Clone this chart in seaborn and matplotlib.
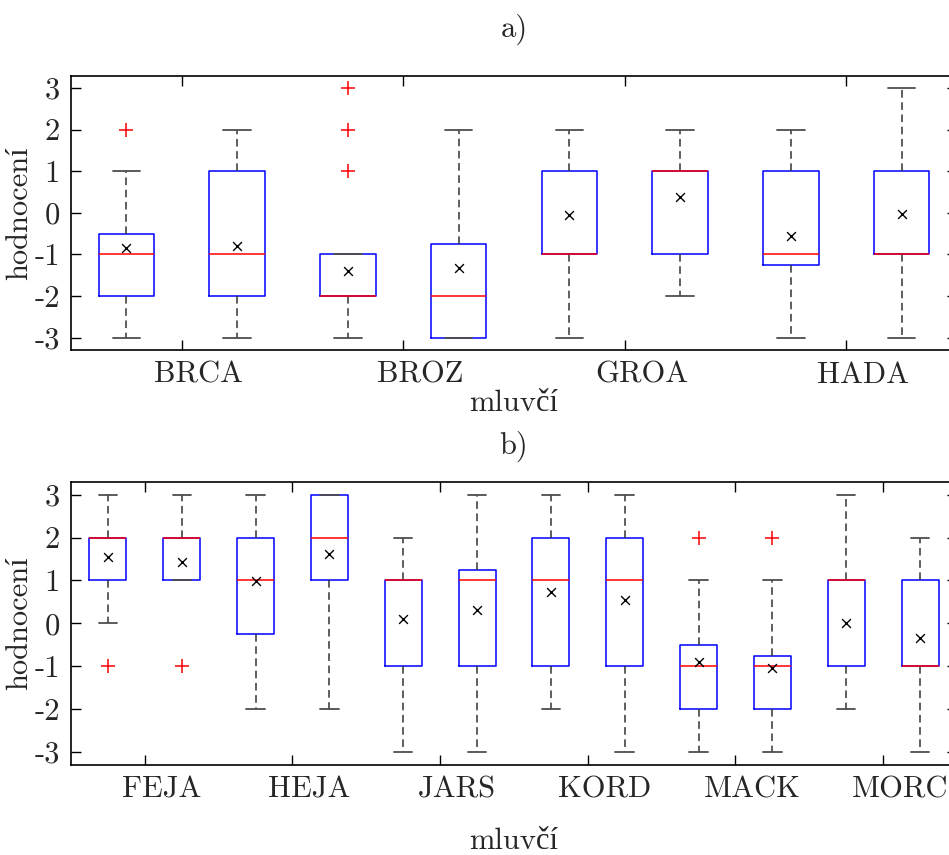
import matplotlib.pyplot as plt
import matplotlib.transforms as mtransforms
import pandas as pd
import seaborn as sns

# panel a) - two boxes per speaker
SPEAKERS_A = ["BRCA", "BROZ", "GROA", "HADA"]
MED_A = [-1, -1, -2, -2, -1, 1, -1, -1]
Q1_A = [-2, -2, -2, -3, -1, -1, -1.25, -1]
Q3_A = [-0.5, 1, -1, -0.75, 1, 1, 1, 1]
LO_A = [-3, -3, -3, -3, -3, -2, -3, -3]
HI_A = [1, 2, -1, 2, 2, 2, 2, 3]
MEAN_A = [-0.85, -0.8, -1.4, -1.32, -0.06, 0.37, -0.55, -0.02]
FLIERS_A = [[2], [], [1, 2, 3], [], [], [], [], []]

# panel b)
SPEAKERS_B = ["FEJA", "HEJA", "JARS", "KORD", "MACK", "MORC"]
MED_B = [2, 2, 1, 2, 1, 1, 1, 1, -1, -1, 1, -1]
Q1_B = [1, 1, -0.25, 1, -1, -1, -1, -1, -2, -2, -1, -1]
Q3_B = [2, 2, 2, 3, 1, 1.25, 2, 2, -0.5, -0.75, 1, 1]
LO_B = [0, 1, -2, -2, -3, -3, -2, -3, -3, -3, -2, -3]
HI_B = [3, 3, 3, 3, 2, 3, 3, 3, 1, 1, 3, 2]
MEAN_B = [1.55, 1.43, 0.99, 1.61, 0.10, 0.31, 0.72, 0.55, -0.89, -1.03, 0.01, -0.35]
FLIERS_B = [[-1], [-1], [], [], [], [], [], [], [2], [2], [], []]

YTICKS = [-3, -2, -1, 0, 1, 2, 3]

sns.set_theme(style="ticks")
plt.rcParams["font.family"] = ["cmr10", "Liberation Serif"]
plt.rcParams["axes.unicode_minus"] = False
plt.rcParams["axes.formatter.use_mathtext"] = False


def draw_panel(ax, speakers, med, q1, q3, lo, hi, mean, fliers, title, title_pad, xlab_pad):
    stats = [
        {"med": m, "q1": a, "q3": b, "whislo": w0, "whishi": w1, "fliers": f}
        for m, a, b, w0, w1, f in zip(med, q1, q3, lo, hi, fliers)
    ]
    n = len(stats)
    pos = list(range(1, n + 1))
    ax.bxp(
        stats, positions=pos, widths=0.5, showfliers=True,
        boxprops=dict(color="#0000ff", linewidth=1.1),
        medianprops=dict(color="#ff0000", linewidth=1.1),
        whiskerprops=dict(color="0.2", linewidth=1.1, linestyle=(0, (5, 3))),
        capprops=dict(color="0.3", linewidth=1.3),
        flierprops=dict(marker="+", markeredgecolor="#ff0000", markersize=10, markeredgewidth=1.1),
    )
    df = pd.DataFrame({"pos": pos, "mean": mean})
    sns.scatterplot(data=df, x="pos", y="mean", marker="x", color="black", s=40, linewidth=1, ax=ax, zorder=5)
    ax.set_xlim(0.5, n + 0.5)
    ax.set_ylim(-3.3, 3.3)
    ax.set_yticks(YTICKS)
    ax.set_yticklabels([str(v) for v in YTICKS])
    ax.set_xticks([1.5 + 2 * i for i in range(len(speakers))])
    ax.set_xticklabels(speakers)
    ax.tick_params(direction="in", length=7, width=1, top=True, right=True,
                   labelsize=22, pad=8, color="black")
    for sp in ax.spines.values():
        sp.set_visible(True)
        sp.set_linewidth(1.2)
        sp.set_color("black")
    shift = mtransforms.ScaledTranslation(0.17, 0, ax.figure.dpi_scale_trans)
    for lab in ax.get_xticklabels():
        lab.set_transform(lab.get_transform() + shift)
    ax.set_xlabel("mluvčí", fontsize=22, labelpad=xlab_pad)
    ax.set_ylabel("hodnocení", fontsize=22, labelpad=1)
    ax.set_title(title, fontsize=22, pad=title_pad)
    ax.grid(False)


fig = plt.figure(figsize=(9.49, 8.55), dpi=100)
ax_a = fig.add_axes([0.0748, 0.5906, 0.9336, 0.3209])
ax_b = fig.add_axes([0.0748, 0.1053, 0.9336, 0.3313])

draw_panel(ax_a, SPEAKERS_A, MED_A, Q1_A, Q3_A, LO_A, HI_A, MEAN_A, FLIERS_A, "a)", 28, 1)
draw_panel(ax_b, SPEAKERS_B, MED_B, Q1_B, Q3_B, LO_B, HI_B, MEAN_B, FLIERS_B, "b)", 20, 17)

fig.savefig("out.png", dpi=100, facecolor="white")
